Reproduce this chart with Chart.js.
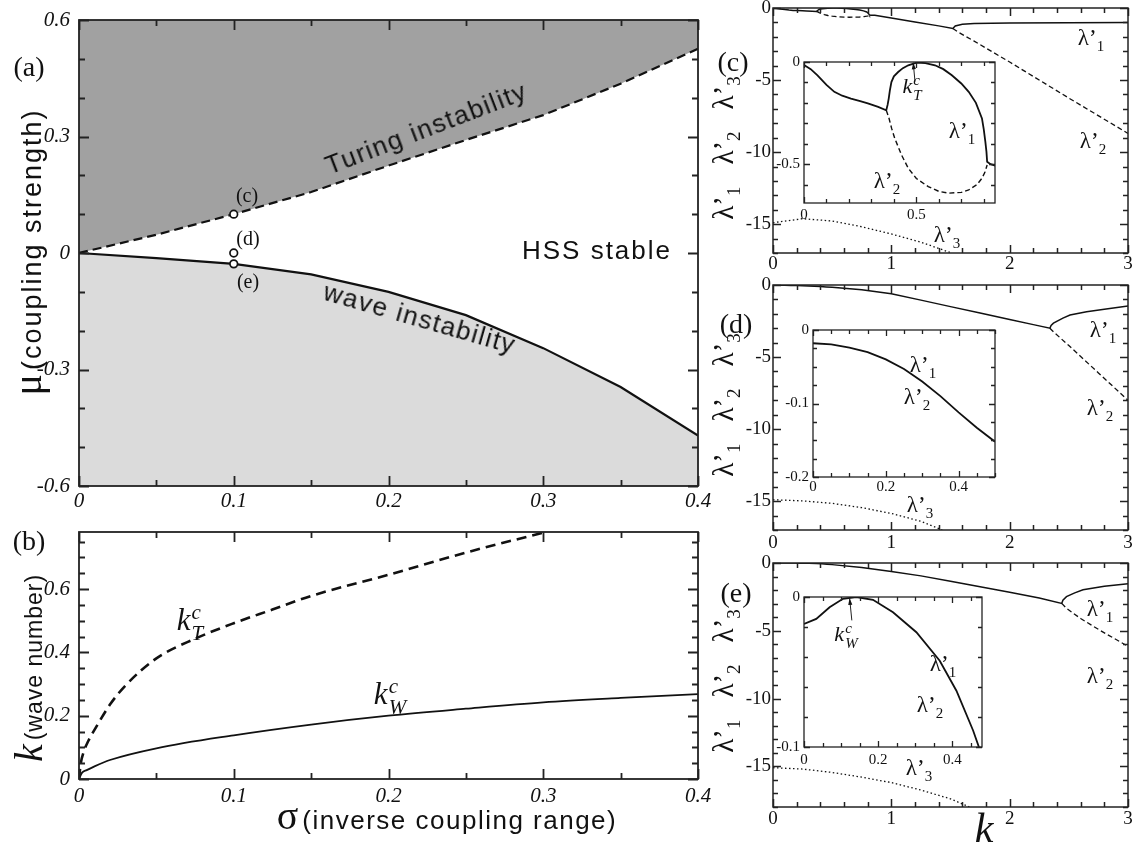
<!DOCTYPE html>
<html>
<head>
<meta charset="utf-8">
<script src="https://cdn.jsdelivr.net/npm/chart.js@4.4.1/dist/chart.umd.min.js"></script>
<style>
  body { margin: 0; background: #fff; }
  #fig { position: relative; width: 1132px; height: 844px; overflow: hidden; background: #fff; }
  canvas { position: absolute; }
  .t { position: absolute; transform: translate(-50%, -50%); white-space: nowrap; color: #111; line-height: 1; }
  .serif { font-family: "Liberation Serif", "DejaVu Serif", serif; }
  .sans { font-family: "Liberation Sans", Arial, sans-serif; }
  .lam { font-family: "Liberation Serif", serif; font-size: 23px; }
  .lam sub { font-size: 15px; }
  .st { display: inline-block; vertical-align: middle; line-height: 1; margin-left: 1px; }
  .st i { display: block; }
  .yl span.it { display: inline-block; margin: 0 11px; }
</style>
</head>
<body>
<div id="fig">
  <canvas id="cA"></canvas>
  <canvas id="cB"></canvas>
  <canvas id="cC"></canvas>
  <canvas id="cD"></canvas>
  <canvas id="cE"></canvas>
  <canvas id="iC"></canvas>
  <canvas id="iD"></canvas>
  <canvas id="iE"></canvas>

  <!-- left column texts -->
  <div class="t serif" style="left:29px;top:67px;font-size:28px">(a)</div>
  <div class="t serif" style="left:29px;top:541px;font-size:28px">(b)</div>
  <div class="t" style="left:28px;top:252px;transform:translate(-50%,-50%) rotate(-90deg)">
    <span class="serif" style="font-size:40px">μ</span>
    <span class="sans" style="font-size:27px;letter-spacing:2px">(coupling strength)</span>
  </div>
  <div class="t" style="left:29px;top:668px;transform:translate(-50%,-50%) rotate(-90deg)">
    <span class="serif" style="font-size:40px;font-style:italic">k</span>
    <span class="sans" style="font-size:23px;letter-spacing:1px">(wave number)</span>
  </div>
  <div class="t" style="left:447px;top:816px">
    <span class="serif" style="font-size:40px">σ</span>
    <span class="sans" style="font-size:26px;letter-spacing:1.5px">(inverse coupling range)</span>
  </div>
  <div class="t sans" style="left:426px;top:128px;font-size:26px;letter-spacing:1.5px;transform:translate(-50%,-50%) rotate(-21deg)">Turing instability</div>
  <div class="t sans" style="left:420px;top:318px;font-size:26px;letter-spacing:1.5px;transform:translate(-50%,-50%) rotate(16deg)">wave instability</div>
  <div class="t sans" style="left:597px;top:250px;font-size:26px;letter-spacing:2px">HSS stable</div>
  <div class="t serif" style="left:247px;top:195px;font-size:20px">(c)</div>
  <div class="t serif" style="left:248px;top:238px;font-size:20px">(d)</div>
  <div class="t serif" style="left:248px;top:281px;font-size:20px">(e)</div>
  <div class="t serif" style="left:190px;top:623px;font-size:31px"><i>k</i><span class="st" style="font-size:21px"><i>c</i><i>T</i></span></div>
  <div class="t serif" style="left:390px;top:697px;font-size:31px"><i>k</i><span class="st" style="font-size:21px"><i>c</i><i>W</i></span></div>

  <!-- right column texts -->
  <div class="t serif" style="left:733px;top:62px;font-size:28px">(c)</div>
  <div class="t serif" style="left:736px;top:324px;font-size:28px">(d)</div>
  <div class="t serif" style="left:736px;top:593px;font-size:28px">(e)</div>
  <div class="t lam yl" style="left:726px;top:148px;font-size:29px;transform:translate(-50%,-50%) rotate(-90deg)"><span class="it">λ’<sub style="font-size:19px">1</sub></span><span class="it">λ’<sub style="font-size:19px">2</sub></span><span class="it">λ’<sub style="font-size:19px">3</sub></span></div>
  <div class="t lam yl" style="left:726px;top:405px;font-size:29px;transform:translate(-50%,-50%) rotate(-90deg)"><span class="it">λ’<sub style="font-size:19px">1</sub></span><span class="it">λ’<sub style="font-size:19px">2</sub></span><span class="it">λ’<sub style="font-size:19px">3</sub></span></div>
  <div class="t lam yl" style="left:726px;top:681px;font-size:29px;transform:translate(-50%,-50%) rotate(-90deg)"><span class="it">λ’<sub style="font-size:19px">1</sub></span><span class="it">λ’<sub style="font-size:19px">2</sub></span><span class="it">λ’<sub style="font-size:19px">3</sub></span></div>
  <div class="t serif" style="left:984px;top:828px;font-size:42px;font-style:italic">k</div>

  <div class="t lam" style="left:1091px;top:40px">λ’<sub>1</sub></div>
  <div class="t lam" style="left:1093px;top:143px">λ’<sub>2</sub></div>
  <div class="t lam" style="left:947px;top:237px">λ’<sub>3</sub></div>
  <div class="t lam" style="left:962px;top:133px">λ’<sub>1</sub></div>
  <div class="t lam" style="left:887px;top:183px">λ’<sub>2</sub></div>
  <div class="t serif" style="left:912px;top:88px;font-size:22px"><i>k</i><span class="st" style="font-size:15px"><i>c</i><i>T</i></span></div>

  <div class="t lam" style="left:1103px;top:332px">λ’<sub>1</sub></div>
  <div class="t lam" style="left:1100px;top:410px">λ’<sub>2</sub></div>
  <div class="t lam" style="left:920px;top:507px">λ’<sub>3</sub></div>
  <div class="t lam" style="left:923px;top:367px">λ’<sub>1</sub></div>
  <div class="t lam" style="left:917px;top:399px">λ’<sub>2</sub></div>

  <div class="t lam" style="left:1100px;top:611px">λ’<sub>1</sub></div>
  <div class="t lam" style="left:1100px;top:678px">λ’<sub>2</sub></div>
  <div class="t lam" style="left:919px;top:770px">λ’<sub>3</sub></div>
  <div class="t lam" style="left:943px;top:666px">λ’<sub>1</sub></div>
  <div class="t lam" style="left:930px;top:707px">λ’<sub>2</sub></div>
  <div class="t serif" style="left:846px;top:636px;font-size:22px"><i>k</i><span class="st" style="font-size:15px"><i>c</i><i>W</i></span></div>
</div>

<script>
// ---------- (a) stability regions in the (sigma, mu) plane
const SIGMA_A = [0, 0.05, 0.1, 0.15, 0.2, 0.25, 0.3, 0.35, 0.4];
const MU_TURING = [0, 0.047, 0.1, 0.157, 0.225, 0.291, 0.355, 0.436, 0.526];
const MU_WAVE = [0, -0.013, -0.028, -0.055, -0.1, -0.16, -0.245, -0.345, -0.47];
const SIGMA_MARKS = [0.1, 0.1, 0.1];
const MU_MARKS = [0.1, 0.0, -0.028];
const A_X_TICKS = [0, 0.1, 0.2, 0.3, 0.4];
const A_Y_TICKS = [-0.6, -0.3, 0, 0.3, 0.6];

// ---------- (b) critical wave numbers
const SIGMA_KT = [0, 0.001, 0.003, 0.006, 0.01, 0.02, 0.03, 0.05, 0.075, 0.1, 0.125, 0.15, 0.2, 0.25, 0.3];
const K_T = [0, 0.045, 0.085, 0.12, 0.155, 0.235, 0.295, 0.381, 0.443, 0.492, 0.535, 0.578, 0.645, 0.715, 0.778];
const SIGMA_KW = [0, 0.002, 0.005, 0.01, 0.02, 0.05, 0.1, 0.15, 0.2, 0.25, 0.3, 0.35, 0.4];
const K_W = [0, 0.02, 0.028, 0.04, 0.06, 0.097, 0.138, 0.172, 0.2, 0.222, 0.242, 0.256, 0.268];
const B_Y_TICKS = [0, 0.2, 0.4, 0.6];

// ---------- (c) dispersion relation at point (c)
const K_C1 = [0, 0.03, 0.06, 0.1, 0.135, 0.17, 0.209, 0.25, 0.284, 0.33, 0.366,
  0.372, 0.377, 0.382, 0.389, 0.4, 0.419, 0.44, 0.464, 0.501, 0.54, 0.583, 0.62, 0.658, 0.7, 0.733, 0.765, 0.792, 0.8, 0.807, 0.812, 0.815,
  0.83, 0.86, 1.0, 1.2, 1.4, 1.52, 1.54, 1.6, 1.7, 2.0, 2.5, 3.0];
const L_C1 = [-0.015, -0.035, -0.065, -0.112, -0.146, -0.165, -0.179, -0.192, -0.203, -0.22, -0.236,
  -0.21, -0.179, -0.14, -0.098, -0.07, -0.049, -0.03, -0.016, -0.003, -0.005, -0.016, -0.035, -0.065, -0.105, -0.146, -0.2, -0.276, -0.33, -0.39, -0.44, -0.488,
  -0.5, -0.51, -0.7, -0.97, -1.24, -1.42, -1.25, -1.13, -1.07, -1.04, -1.02, -1.0];
const K_C2A = [0.366, 0.377, 0.39, 0.404, 0.434, 0.464, 0.5, 0.553, 0.6, 0.643, 0.7, 0.733, 0.77, 0.792, 0.805, 0.815];
const L_C2A = [-0.236, -0.27, -0.325, -0.374, -0.455, -0.52, -0.57, -0.61, -0.633, -0.642, -0.638, -0.626, -0.6, -0.569, -0.54, -0.504];
const K_C2B = [1.52, 1.56, 1.7, 2.0, 2.5, 3.0];
const L_C2B = [-1.42, -1.65, -2.3, -3.75, -6.25, -8.7];
const K_C3 = [0, 0.25, 0.5, 0.75, 1.0, 1.25, 1.5];
const L_C3 = [-14.9, -14.62, -14.78, -15.18, -15.68, -16.25, -16.97];

// ---------- (d) dispersion relation at point (d)
const K_D1 = [0, 0.05, 0.1, 0.15, 0.2, 0.25, 0.3, 0.35, 0.4, 0.45, 0.5, 0.75, 1.0, 1.25, 1.5, 1.75, 2.0, 2.2, 2.34, 2.35, 2.37, 2.45, 2.51, 2.65, 2.8, 3.0];
const L_D1 = [-0.018, -0.0195, -0.024, -0.03, -0.04, -0.053, -0.07, -0.09, -0.112, -0.133, -0.152, -0.33, -0.6, -1.05, -1.5, -1.95, -2.4, -2.75, -3.0, -2.8, -2.65, -2.3, -2.08, -1.85, -1.69, -1.45];
const K_D2 = [2.34, 2.37, 2.5, 2.75, 3.0];
const L_D2 = [-3.0, -3.25, -4.2, -6.1, -8.0];
const K_D3 = [0, 0.25, 0.5, 0.75, 1.0, 1.25, 1.43];
const L_D3 = [-14.9, -14.98, -15.15, -15.45, -15.85, -16.4, -17.0];

// ---------- (e) dispersion relation at point (e)
const K_E1 = [0, 0.033, 0.069, 0.105, 0.141, 0.186, 0.24, 0.303, 0.366, 0.411, 0.456, 0.5, 0.75, 1.0, 1.25, 1.5, 1.75, 2.0, 2.25, 2.44, 2.45, 2.48, 2.55, 2.62, 2.8, 3.0];
const L_E1 = [-0.018, -0.0146, -0.0068, -0.0012, 0, -0.0019, -0.0102, -0.0235, -0.0425, -0.0625, -0.089, -0.12, -0.34, -0.63, -0.95, -1.35, -1.75, -2.15, -2.58, -2.98, -2.75, -2.48, -2.2, -1.98, -1.72, -1.53];
const K_E2 = [2.44, 2.48, 2.6, 2.76, 3.0];
const L_E2 = [-2.98, -3.34, -4.1, -4.95, -6.15];
const K_E3 = [0, 0.25, 0.5, 0.75, 1.0, 1.25, 1.5, 1.66];
const L_E3 = [-15.1, -15.2, -15.45, -15.8, -16.2, -16.75, -17.4, -18.0];

const RIGHT_X_TICKS = [0, 1, 2, 3];
const RIGHT_Y_TICKS = [-15, -10, -5, 0];
const INSET_C_X = [0, 0.5];
const INSET_C_Y = [-0.5, 0];
const INSET_D_X = [0, 0.2, 0.4];
const INSET_D_Y = [-0.2, -0.1, 0];
const INSET_E_X = [0, 0.2, 0.4];
const INSET_E_Y = [-0.1, 0];

/* ---------------- helpers ---------------- */

const INK = "#111";
const SERIF = "Liberation Serif";

function fmt(v) {
  return Math.abs(v) < 1e-9 ? "0" : String(+v.toFixed(3));
}

function pts(xs, ys) {
  return xs.map((x, i) => ({ x: x, y: ys[i] }));
}

function curve(xs, ys, extra) {
  return Object.assign({
    data: pts(xs, ys), borderColor: INK, borderWidth: 1.5,
    pointRadius: 0, fill: false, tension: 0
  }, extra || {});
}

// tick positions along a scale: [value, isMajor]
function marks(scale, step, major) {
  const out = [];
  const n0 = Math.ceil(scale.min / step - 1e-6), n1 = Math.floor(scale.max / step + 1e-6);
  for (let n = n0; n <= n1; n++) {
    const v = n * step, r = v / major;
    out.push([v, Math.abs(r - Math.round(r)) < 1e-6]);
  }
  return out;
}

// box frame with inward ticks on all four sides; optional white plot background
const framePlugin = {
  id: "frame",
  beforeDraw(chart, args, o) {
    if (!o.bg) return;
    const a = chart.chartArea, ctx = chart.ctx;
    ctx.save();
    ctx.fillStyle = o.bg;
    ctx.fillRect(a.left, a.top, a.right - a.left, a.bottom - a.top);
    ctx.restore();
  },
  afterDraw(chart, args, o) {
    const { ctx, chartArea: a, scales: { x, y } } = chart;
    ctx.save();
    ctx.strokeStyle = "#222";
    ctx.lineWidth = o.lw;
    ctx.beginPath();
    marks(x, o.xMinor, o.xMajor).forEach(([v, big]) => {
      const p = Math.round(x.getPixelForValue(v)) + 0.5, len = big ? o.big : o.small;
      ctx.moveTo(p, a.bottom); ctx.lineTo(p, a.bottom - len);
      ctx.moveTo(p, a.top); ctx.lineTo(p, a.top + len);
    });
    marks(y, o.yMinor, o.yMajor).forEach(([v, big]) => {
      const p = Math.round(y.getPixelForValue(v)) + 0.5, len = big ? o.big : o.small;
      ctx.moveTo(a.left, p); ctx.lineTo(a.left + len, p);
      ctx.moveTo(a.right, p); ctx.lineTo(a.right - len, p);
    });
    ctx.stroke();
    ctx.strokeRect(a.left, a.top, a.right - a.left, a.bottom - a.top);

    if (o.arrow) {
      const [k0, l0] = o.arrow.from, [k1, l1] = o.arrow.to;
      const x0 = x.getPixelForValue(k0), y0 = y.getPixelForValue(l0);
      const x1 = x.getPixelForValue(k1), y1 = y.getPixelForValue(l1);
      const ang = Math.atan2(y1 - y0, x1 - x0);
      ctx.lineWidth = 1;
      ctx.beginPath(); ctx.moveTo(x0, y0); ctx.lineTo(x1, y1); ctx.stroke();
      ctx.fillStyle = INK;
      ctx.beginPath();
      ctx.moveTo(x1, y1);
      ctx.lineTo(x1 - 7 * Math.cos(ang - 0.3), y1 - 7 * Math.sin(ang - 0.3));
      ctx.lineTo(x1 - 7 * Math.cos(ang + 0.3), y1 - 7 * Math.sin(ang + 0.3));
      ctx.closePath(); ctx.fill();
    }
    ctx.restore();
  }
};

// box: canvas rect in page px; plot: wanted chart area in page px
function makeChart(id, box, plot, spec) {
  const cv = document.getElementById(id);
  cv.width = box.w; cv.height = box.h;
  cv.style.left = box.l + "px"; cv.style.top = box.t + "px";

  const yWidth = plot.l - box.l;
  const xHeight = box.t + box.h - plot.b;

  function axis(ticks, min, max, font, pad, horizontal) {
    return {
      type: "linear", min: min, max: max,
      grid: { display: false, drawTicks: false },
      border: { display: false },
      afterBuildTicks: s => { s.ticks = ticks.map(v => ({ value: v })); },
      afterFit: s => {
        if (horizontal) { s.height = xHeight; s.paddingLeft = 0; s.paddingRight = 0; }
        else { s.width = yWidth; s.paddingTop = 0; s.paddingBottom = 0; }
      },
      ticks: { autoSkip: false, maxRotation: 0, minRotation: 0, padding: pad, color: INK, font: font, callback: fmt }
    };
  }

  return new Chart(cv, {
    type: "line",
    data: { datasets: spec.datasets },
    options: {
      responsive: false, animation: false, devicePixelRatio: 1,
      layout: { padding: { left: 0, top: plot.t - box.t, right: box.l + box.w - plot.r, bottom: 0 } },
      scales: {
        x: axis(spec.xTicks, spec.xMin, spec.xMax, spec.font, spec.xPad, true),
        y: axis(spec.yTicks, spec.yMin, spec.yMax, spec.font, spec.yPad, false)
      },
      plugins: { legend: { display: false }, tooltip: { enabled: false }, frame: spec.frame }
    },
    plugins: [framePlugin]
  });
}

/* ---------------- panels ---------------- */

const leftFont = { family: SERIF, size: 21, style: "italic" };
const rightFont = { family: SERIF, size: 19 };
const insetFont = { family: SERIF, size: 15 };

makeChart("cA", { l: 0, t: 0, w: 712, h: 520 }, { l: 79, t: 20, r: 698, b: 486 }, {
  xMin: 0, xMax: 0.4, yMin: -0.6, yMax: 0.6, xTicks: A_X_TICKS, yTicks: A_Y_TICKS,
  font: leftFont, xPad: 3, yPad: 9,
  frame: { lw: 1.8, big: 10, small: 6, xMajor: 0.1, xMinor: 0.05, yMajor: 0.3, yMinor: 0.1 },
  datasets: [
    curve(SIGMA_MARKS, MU_MARKS, {
      showLine: false, pointRadius: 3.8, pointBackgroundColor: "#fff",
      pointBorderColor: INK, pointBorderWidth: 1.7
    }),
    curve(SIGMA_A, MU_TURING, { borderWidth: 2.2, borderDash: [9, 5], fill: "end", backgroundColor: "#a1a1a1" }),
    curve(SIGMA_A, MU_WAVE, { borderWidth: 2.2, fill: "start", backgroundColor: "#dbdbdb" })
  ]
});

makeChart("cB", { l: 0, t: 490, w: 712, h: 320 }, { l: 79, t: 532, r: 698, b: 779 }, {
  xMin: 0, xMax: 0.4, yMin: 0, yMax: 0.78, xTicks: A_X_TICKS, yTicks: B_Y_TICKS,
  font: leftFont, xPad: 5, yPad: 9,
  frame: { lw: 1.8, big: 10, small: 6, xMajor: 0.1, xMinor: 0.05, yMajor: 0.2, yMinor: 0.05 },
  datasets: [
    curve(SIGMA_KT, K_T, { borderWidth: 2.6, borderDash: [10, 6], cubicInterpolationMode: "monotone" }),
    curve(SIGMA_KW, K_W, { borderWidth: 1.8, cubicInterpolationMode: "monotone" })
  ]
});

const rightFrame = { lw: 1.5, big: 8, small: 5, xMajor: 1, xMinor: 0.2, yMajor: 5, yMinor: 1 };
const dashed = { borderDash: [5, 3], borderWidth: 1.3 };
const dotted = { borderDash: [1.5, 2.5], borderWidth: 1.3 };

makeChart("cC", { l: 700, t: 0, w: 432, h: 275 }, { l: 773, t: 8, r: 1128, b: 253 }, {
  xMin: 0, xMax: 3, yMin: -17, yMax: 0, xTicks: RIGHT_X_TICKS, yTicks: RIGHT_Y_TICKS,
  font: rightFont, xPad: 0, yPad: 2, frame: rightFrame,
  datasets: [
    curve(K_C1, L_C1),
    curve(K_C2A, L_C2A, dashed),
    curve(K_C2B, L_C2B, dashed),
    curve(K_C3, L_C3, dotted)
  ]
});

makeChart("cD", { l: 700, t: 275, w: 432, h: 280 }, { l: 773, t: 285, r: 1128, b: 530 }, {
  xMin: 0, xMax: 3, yMin: -17, yMax: 0, xTicks: RIGHT_X_TICKS, yTicks: RIGHT_Y_TICKS,
  font: rightFont, xPad: 2, yPad: 2, frame: rightFrame,
  datasets: [
    curve(K_D1, L_D1),
    curve(K_D2, L_D2, dashed),
    curve(K_D3, L_D3, dotted)
  ]
});

makeChart("cE", { l: 700, t: 555, w: 432, h: 289 }, { l: 773, t: 563, r: 1128, b: 807 }, {
  xMin: 0, xMax: 3, yMin: -18, yMax: 0, xTicks: RIGHT_X_TICKS, yTicks: RIGHT_Y_TICKS,
  font: rightFont, xPad: 1, yPad: 2, frame: rightFrame,
  datasets: [
    curve(K_E1, L_E1),
    curve(K_E2, L_E2, dashed),
    curve(K_E3, L_E3, dotted)
  ]
});

const insetDashed = { borderDash: [5, 3], borderWidth: 1.4 };

makeChart("iC", { l: 765, t: 50, w: 235, h: 178 }, { l: 804, t: 62, r: 995, b: 203 }, {
  xMin: 0, xMax: 0.85, yMin: -0.69, yMax: 0, xTicks: INSET_C_X, yTicks: INSET_C_Y,
  font: insetFont, xPad: 3, yPad: 4,
  frame: { lw: 1.3, bg: "#fff", big: 6, small: 4, xMajor: 0.5, xMinor: 0.1, yMajor: 0.5, yMinor: 0.1,
           arrow: { from: [0.494, -0.096], to: [0.486, -0.003] } },
  datasets: [
    curve(K_C1, L_C1, { borderWidth: 1.8 }),
    curve(K_C2A, L_C2A, insetDashed)
  ]
});

makeChart("iD", { l: 772, t: 320, w: 228, h: 182 }, { l: 813, t: 330, r: 995, b: 477 }, {
  xMin: 0, xMax: 0.5, yMin: -0.2, yMax: 0, xTicks: INSET_D_X, yTicks: INSET_D_Y,
  font: insetFont, xPad: 1, yPad: 4,
  frame: { lw: 1.3, bg: "#fff", big: 6, small: 4, xMajor: 0.2, xMinor: 0.05, yMajor: 0.1, yMinor: 0.025 },
  datasets: [
    curve(K_D1, L_D1, { borderWidth: 1.8 })
  ]
});

makeChart("iE", { l: 762, t: 585, w: 225, h: 188 }, { l: 804, t: 597, r: 982, b: 747 }, {
  xMin: 0, xMax: 0.48, yMin: -0.1, yMax: 0, xTicks: INSET_E_X, yTicks: INSET_E_Y,
  font: insetFont, xPad: 4, yPad: 4,
  frame: { lw: 1.3, bg: "#fff", big: 6, small: 4, xMajor: 0.2, xMinor: 0.05, yMajor: 0.1, yMinor: 0.02,
           arrow: { from: [0.129, -0.0156], to: [0.123, -0.0008] } },
  datasets: [
    curve(K_E1, L_E1, { borderWidth: 1.8 })
  ]
});
</script>
</body>
</html>
